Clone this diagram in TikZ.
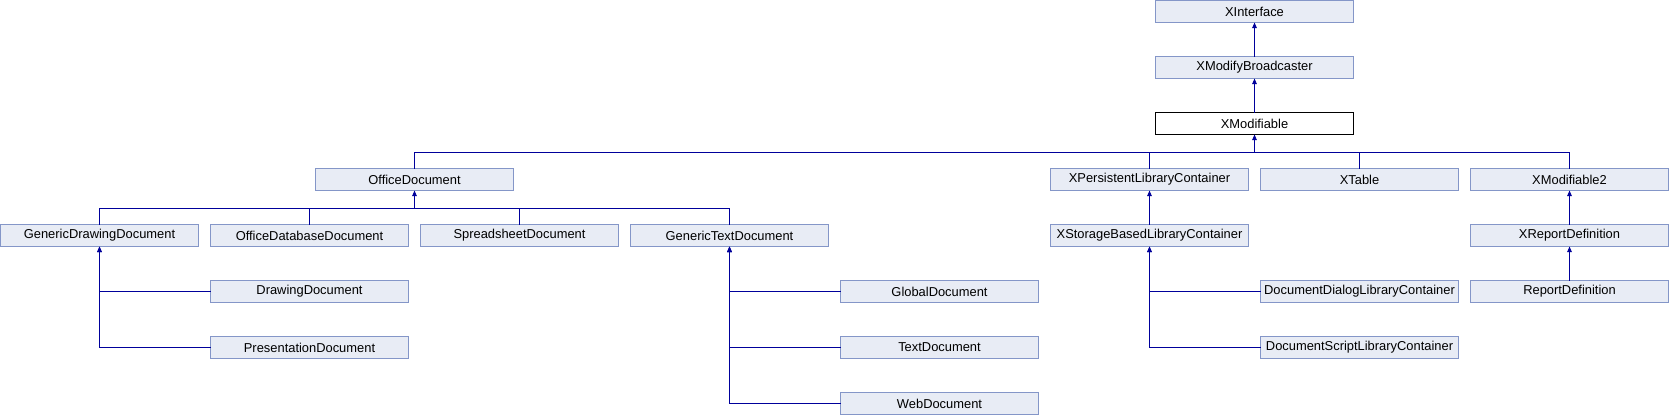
\documentclass[tikz,border=0pt]{standalone}
\usepackage{fontspec}
\setmainfont{Liberation Sans}
\usetikzlibrary{arrows.meta}
\definecolor{boxfill}{RGB}{232,236,245}
\definecolor{boxline}{RGB}{132,150,200}
\definecolor{edgeblue}{RGB}{0,0,155}

\begin{document}
\begin{tikzpicture}[line cap=butt,line join=miter,>={Triangle[length=5.5pt,width=4.5pt]},x=1pt,y=-1pt,
	classbox/.style={draw=boxline,fill=boxfill,line width=1pt,minimum width=198pt,minimum height=22pt,inner sep=0pt,outer sep=0pt,font=\fontsize{12.9}{15}\selectfont},
	mainbox/.style={classbox,draw=black,fill=white},
	edge/.style={draw=edgeblue,line width=1pt}]
			\useasboundingbox (0.,0.) rectangle (1670.,416.);
			% row 0 to 2
			\node[classbox] (xinterface) at (1254.5,11.5) {XInterface};
			\node[classbox] (xmodifybroadcaster) at (1254.5,67.5) {XModifyBroadcaster};
			\node[mainbox] (xmodifiable) at (1254.5,123.5) {XModifiable};
			% row 3
			\node[classbox] (officedocument) at (414.5,179.5) {OfficeDocument};
			\node[classbox] (xpersistentlibrarycontainer) at (1149.5,179.5) {XPersistentLibraryContainer};
			\node[classbox] (xtable) at (1359.5,179.5) {XTable};
			\node[classbox] (xmodifiable2) at (1569.5,179.5) {XModifiable2};
			% row 4
			\node[classbox] (genericdrawingdocument) at (99.5,235.5) {GenericDrawingDocument};
			\node[classbox] (officedatabasedocument) at (309.5,235.5) {OfficeDatabaseDocument};
			\node[classbox] (spreadsheetdocument) at (519.5,235.5) {SpreadsheetDocument};
			\node[classbox] (generictextdocument) at (729.5,235.5) {GenericTextDocument};
			\node[classbox] (xstoragebasedlibrarycontainer) at (1149.5,235.5) {XStorageBasedLibraryContainer};
			\node[classbox] (xreportdefinition) at (1569.5,235.5) {XReportDefinition};
			% row 5 to 7
			\node[classbox] (drawingdocument) at (309.5,291.5) {DrawingDocument};
			\node[classbox] (presentationdocument) at (309.5,347.5) {PresentationDocument};
			\node[classbox] (globaldocument) at (939.5,291.5) {GlobalDocument};
			\node[classbox] (textdocument) at (939.5,347.5) {TextDocument};
			\node[classbox] (webdocument) at (939.5,403.5) {WebDocument};
			\node[classbox] (documentdialoglibrarycontainer) at (1359.5,291.5) {DocumentDialogLibraryContainer};
			\node[classbox] (documentscriptlibrarycontainer) at (1359.5,347.5) {DocumentScriptLibraryContainer};
			\node[classbox] (reportdefinition) at (1569.5,291.5) {ReportDefinition};
			% bars
			\coordinate (xmodifiablebar) at (1254.5,152.);
			\coordinate (officedocumentbar) at (414.5,208.);
			% connectors
			\draw [edge,->] (xmodifybroadcaster.north) -- (xinterface.south);
			\draw [edge,->] (xmodifiable.north) -- (xmodifybroadcaster.south);
			\draw [edge] (officedocument.north) |- (xmodifiablebar);
			\draw [edge] (xpersistentlibrarycontainer.north) |- (xmodifiablebar);
			\draw [edge] (xtable.north) |- (xmodifiablebar);
			\draw [edge] (xmodifiable2.north) |- (xmodifiablebar);
			\draw [edge,->] (xmodifiablebar) -- (xmodifiable.south);
			\draw [edge] (genericdrawingdocument.north) |- (officedocumentbar);
			\draw [edge] (officedatabasedocument.north) |- (officedocumentbar);
			\draw [edge] (spreadsheetdocument.north) |- (officedocumentbar);
			\draw [edge] (generictextdocument.north) |- (officedocumentbar);
			\draw [edge,->] (officedocumentbar) -- (officedocument.south);
			\draw [edge,->] (drawingdocument.west) -| (genericdrawingdocument.south);
			\draw [edge,->] (presentationdocument.west) -| (genericdrawingdocument.south);
			\draw [edge,->] (globaldocument.west) -| (generictextdocument.south);
			\draw [edge,->] (textdocument.west) -| (generictextdocument.south);
			\draw [edge,->] (webdocument.west) -| (generictextdocument.south);
			\draw [edge,->] (xstoragebasedlibrarycontainer.north) -- (xpersistentlibrarycontainer.south);
			\draw [edge,->] (documentdialoglibrarycontainer.west) -| (xstoragebasedlibrarycontainer.south);
			\draw [edge,->] (documentscriptlibrarycontainer.west) -| (xstoragebasedlibrarycontainer.south);
			\draw [edge,->] (xreportdefinition.north) -- (xmodifiable2.south);
			\draw [edge,->] (reportdefinition.north) -- (xreportdefinition.south);
		\end{tikzpicture}
\end{document}
